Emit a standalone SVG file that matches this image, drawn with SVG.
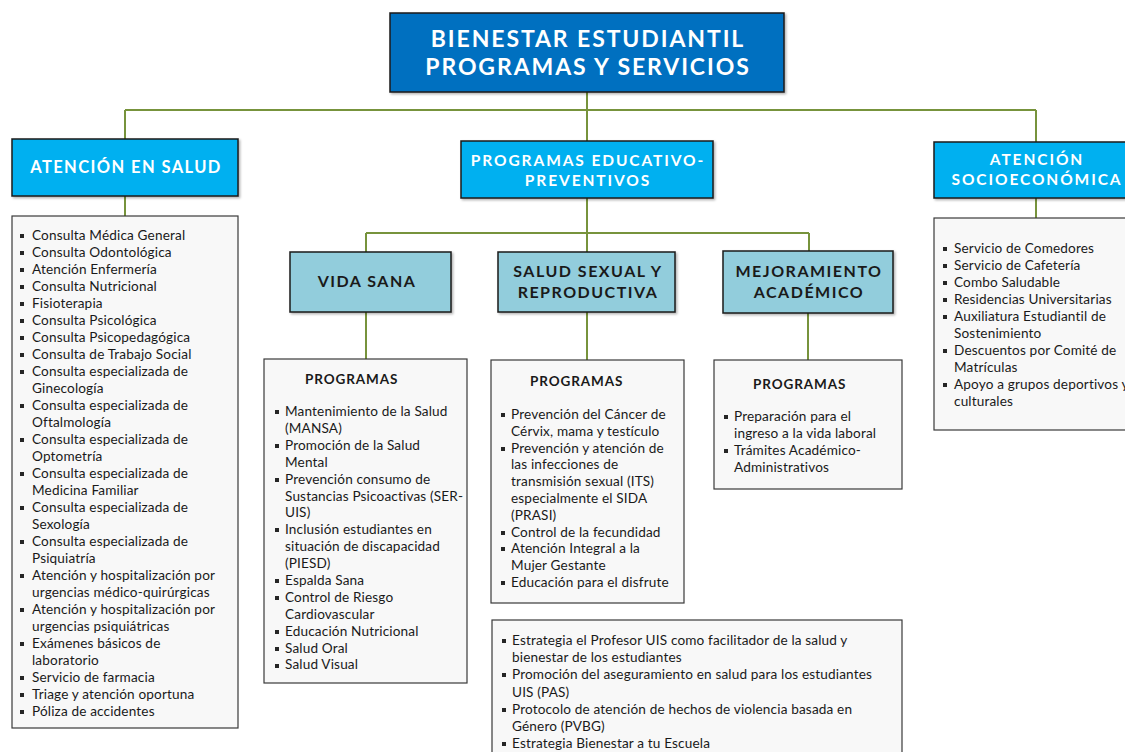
<svg xmlns="http://www.w3.org/2000/svg" xmlns:xlink="http://www.w3.org/1999/xlink" width="1125" height="752" viewBox="0 0 1125 752">
<defs>
<rect id="b" x="-2" y="-2" width="4" height="4" fill="#262626"/>
<filter id="sh" x="-5%" y="-5%" width="115%" height="120%"><feDropShadow dx="1.5" dy="1.5" stdDeviation="1" flood-color="#000" flood-opacity="0.3"/></filter>
</defs>
<style>
.conn{stroke:#77933C;stroke-width:2;fill:none}
.top{fill:#0070C0;stroke:#1a1a1a;stroke-width:1.5}
.main{fill:#00B0F0;stroke:#1a1a1a;stroke-width:1.5}
.sub{fill:#92CDDC;stroke:#1a1a1a;stroke-width:1.5}
.list{fill:#F8F8F8;stroke:#3a3a3a;stroke-width:1.2}
.wt{font-family:Lato,"Open Sans",sans-serif;font-weight:bold;fill:#fff;text-anchor:middle}
.dt{font-family:Lato,"Open Sans",sans-serif;font-weight:bold;fill:#1a1a1a;text-anchor:middle;font-size:16px;letter-spacing:1.5px}
.it{font-family:Lato,"Open Sans",sans-serif;font-size:13.6px;letter-spacing:0.15px;fill:#1a1a1a}
.ph{font-family:Lato,"Open Sans",sans-serif;font-weight:bold;font-size:13.5px;fill:#1a1a1a;letter-spacing:0.9px}
</style>
<rect width="1125" height="752" fill="#fff"/>
<g id="connectors">
<path class="conn" d="M587 92V141M125 110H1036M125 110V139M1036 110V142M125 196V216M1036 198V218M587 198V252M366 233H809M366 233V252M809 233V251M366 312V359M587 312V360M808 313V360"/>
</g>
<g id="n-root">
<rect class="top" x="390" y="13" width="394" height="79" filter="url(#sh)"/>
<text class="wt" font-size="23" letter-spacing="1.9" x="588" y="47">BIENESTAR ESTUDIANTIL</text>
<text class="wt" font-size="23" letter-spacing="1.9" x="588" y="75">PROGRAMAS Y SERVICIOS</text>
</g>
<g id="n-salud">
<rect class="main" x="12" y="139" width="226" height="57" filter="url(#sh)"/>
<text class="wt" font-size="16.5" letter-spacing="1.4" x="126" y="173">ATENCIÓN EN SALUD</text>
</g>
<g id="n-edu">
<rect class="main" x="461" y="141" width="252" height="57" filter="url(#sh)"/>
<text class="wt" font-size="15.5" letter-spacing="1.9" x="588" y="166">PROGRAMAS EDUCATIVO-</text>
<text class="wt" font-size="15.5" letter-spacing="1.9" x="588" y="186">PREVENTIVOS</text>
</g>
<g id="n-socio">
<rect class="main" x="934" y="142" width="206" height="56" filter="url(#sh)"/>
<text class="wt" font-size="15.5" letter-spacing="1.9" x="1037" y="165">ATENCIÓN</text>
<text class="wt" font-size="15.5" letter-spacing="1.9" x="1037" y="185">SOCIOECONÓMICA</text>
</g>
<g id="n-vida">
<rect class="sub" x="290" y="252" width="161" height="60" filter="url(#sh)"/>
<text class="dt" x="367" y="287">VIDA SANA</text>
</g>
<g id="n-sexual">
<rect class="sub" x="498" y="252" width="177" height="60" filter="url(#sh)"/>
<text class="dt" x="588" y="277">SALUD SEXUAL Y</text>
<text class="dt" x="588" y="298">REPRODUCTIVA</text>
</g>
<g id="n-mejora">
<rect class="sub" x="723" y="251" width="170" height="62" filter="url(#sh)"/>
<text class="dt" x="809" y="277">MEJORAMIENTO</text>
<text class="dt" x="809" y="298">ACADÉMICO</text>
</g>
<g id="l-salud">
<rect class="list" x="12" y="216" width="226" height="512"/>
<text class="it" x="32" y="240"><tspan x="32">Consulta Médica General</tspan><tspan x="32" dy="17">Consulta Odontológica</tspan><tspan x="32" dy="17">Atención Enfermería</tspan><tspan x="32" dy="17">Consulta Nutricional</tspan><tspan x="32" dy="17">Fisioterapia</tspan><tspan x="32" dy="17">Consulta Psicológica</tspan><tspan x="32" dy="17">Consulta Psicopedagógica</tspan><tspan x="32" dy="17">Consulta de Trabajo Social</tspan><tspan x="32" dy="17">Consulta especializada de</tspan><tspan x="32" dy="17">Ginecología</tspan><tspan x="32" dy="17">Consulta especializada de</tspan><tspan x="32" dy="17">Oftalmología</tspan><tspan x="32" dy="17">Consulta especializada de</tspan><tspan x="32" dy="17">Optometría</tspan><tspan x="32" dy="17">Consulta especializada de</tspan><tspan x="32" dy="17">Medicina Familiar</tspan><tspan x="32" dy="17">Consulta especializada de</tspan><tspan x="32" dy="17">Sexología</tspan><tspan x="32" dy="17">Consulta especializada de</tspan><tspan x="32" dy="17">Psiquiatría</tspan><tspan x="32" dy="17">Atención y hospitalización por</tspan><tspan x="32" dy="17">urgencias médico-quirúrgicas</tspan><tspan x="32" dy="17">Atención y hospitalización por</tspan><tspan x="32" dy="17">urgencias psiquiátricas</tspan><tspan x="32" dy="17">Exámenes  básicos de</tspan><tspan x="32" dy="17">laboratorio</tspan><tspan x="32" dy="17">Servicio de farmacia</tspan><tspan x="32" dy="17">Triage y atención oportuna</tspan><tspan x="32" dy="17">Póliza de accidentes</tspan></text>
<use href="#b" x="22" y="236"/><use href="#b" x="22" y="253"/><use href="#b" x="22" y="270"/><use href="#b" x="22" y="287"/><use href="#b" x="22" y="304"/><use href="#b" x="22" y="321"/><use href="#b" x="22" y="338"/><use href="#b" x="22" y="355"/><use href="#b" x="22" y="372"/><use href="#b" x="22" y="406"/><use href="#b" x="22" y="440"/><use href="#b" x="22" y="474"/><use href="#b" x="22" y="508"/><use href="#b" x="22" y="542"/><use href="#b" x="22" y="576"/><use href="#b" x="22" y="610"/><use href="#b" x="22" y="644"/><use href="#b" x="22" y="678"/><use href="#b" x="22" y="695"/><use href="#b" x="22" y="712"/>
</g>
<g id="l-vida">
<rect class="list" x="264" y="359" width="203" height="324"/>
<text class="ph" x="305" y="384">PROGRAMAS</text>
<text class="it" x="285" y="416"><tspan x="285">Mantenimiento de la Salud</tspan><tspan x="285" dy="16.9">(MANSA)</tspan><tspan x="285" dy="16.9">Promoción de la Salud</tspan><tspan x="285" dy="16.9">Mental</tspan><tspan x="285" dy="16.9">Prevención consumo de</tspan><tspan x="285" dy="16.9">Sustancias Psicoactivas (SER-</tspan><tspan x="285" dy="16.9">UIS)</tspan><tspan x="285" dy="16.9">Inclusión  estudiantes en</tspan><tspan x="285" dy="16.9">situación de discapacidad</tspan><tspan x="285" dy="16.9">(PIESD)</tspan><tspan x="285" dy="16.9">Espalda Sana</tspan><tspan x="285" dy="16.9">Control de Riesgo</tspan><tspan x="285" dy="16.9">Cardiovascular</tspan><tspan x="285" dy="16.9">Educación Nutricional</tspan><tspan x="285" dy="16.9">Salud Oral</tspan><tspan x="285" dy="16.9">Salud Visual</tspan></text>
<use href="#b" x="277" y="412"/><use href="#b" x="277" y="446"/><use href="#b" x="277" y="480"/><use href="#b" x="277" y="530"/><use href="#b" x="277" y="581"/><use href="#b" x="277" y="598"/><use href="#b" x="277" y="632"/><use href="#b" x="277" y="649"/><use href="#b" x="277" y="666"/>
</g>
<g id="l-sexual">
<rect class="list" x="491" y="360" width="193" height="243"/>
<text class="ph" x="530" y="386">PROGRAMAS</text>
<text class="it" x="511" y="419"><tspan x="511">Prevención del Cáncer de</tspan><tspan x="511" dy="16.8">Cérvix, mama y testículo</tspan><tspan x="511" dy="16.8">Prevención y atención de</tspan><tspan x="511" dy="16.8">las infecciones de</tspan><tspan x="511" dy="16.8">transmisión sexual (ITS)</tspan><tspan x="511" dy="16.8">especialmente el SIDA</tspan><tspan x="511" dy="16.8">(PRASI)</tspan><tspan x="511" dy="16.8">Control de la fecundidad</tspan><tspan x="511" dy="16.8">Atención Integral a la</tspan><tspan x="511" dy="16.8">Mujer Gestante</tspan><tspan x="511" dy="16.8">Educación para el disfrute</tspan></text>
<use href="#b" x="503" y="415"/><use href="#b" x="503" y="449"/><use href="#b" x="503" y="533"/><use href="#b" x="503" y="549"/><use href="#b" x="503" y="583"/>
</g>
<g id="l-mejora">
<rect class="list" x="714" y="360" width="188" height="129"/>
<text class="ph" x="753" y="389">PROGRAMAS</text>
<text class="it" x="734" y="421"><tspan x="734">Preparación para el</tspan><tspan x="734" dy="17">ingreso a la vida laboral</tspan><tspan x="734" dy="17">Trámites Académico-</tspan><tspan x="734" dy="17">Administrativos</tspan></text>
<use href="#b" x="726" y="417"/><use href="#b" x="726" y="451"/>
</g>
<g id="l-edu-extra">
<rect class="list" x="492" y="620" width="410" height="145"/>
<text class="it" x="512" y="645"><tspan x="512">Estrategia el Profesor UIS como facilitador de la salud y</tspan><tspan x="512" dy="17.2">bienestar de los estudiantes</tspan><tspan x="512" dy="17.2">Promoción del aseguramiento en salud para los estudiantes</tspan><tspan x="512" dy="17.2">UIS (PAS)</tspan><tspan x="512" dy="17.2">Protocolo de atención de hechos de violencia basada en</tspan><tspan x="512" dy="17.2">Género (PVBG)</tspan><tspan x="512" dy="17.2">Estrategia Bienestar a tu Escuela</tspan></text>
<use href="#b" x="504" y="641"/><use href="#b" x="504" y="675"/><use href="#b" x="504" y="710"/><use href="#b" x="504" y="744"/>
</g>
<g id="l-socio">
<rect class="list" x="934" y="218" width="206" height="212"/>
<text class="it" x="954" y="253"><tspan x="954">Servicio de Comedores</tspan><tspan x="954" dy="17">Servicio de Cafetería</tspan><tspan x="954" dy="17">Combo Saludable</tspan><tspan x="954" dy="17">Residencias Universitarias</tspan><tspan x="954" dy="17">Auxiliatura Estudiantil de</tspan><tspan x="954" dy="17">Sostenimiento</tspan><tspan x="954" dy="17">Descuentos por Comité de</tspan><tspan x="954" dy="17">Matrículas</tspan><tspan x="954" dy="17">Apoyo a grupos deportivos y</tspan><tspan x="954" dy="17">culturales</tspan></text>
<use href="#b" x="945" y="249"/><use href="#b" x="945" y="266"/><use href="#b" x="945" y="283"/><use href="#b" x="945" y="300"/><use href="#b" x="945" y="317"/><use href="#b" x="945" y="351"/><use href="#b" x="945" y="385"/>
</g>
</svg>
